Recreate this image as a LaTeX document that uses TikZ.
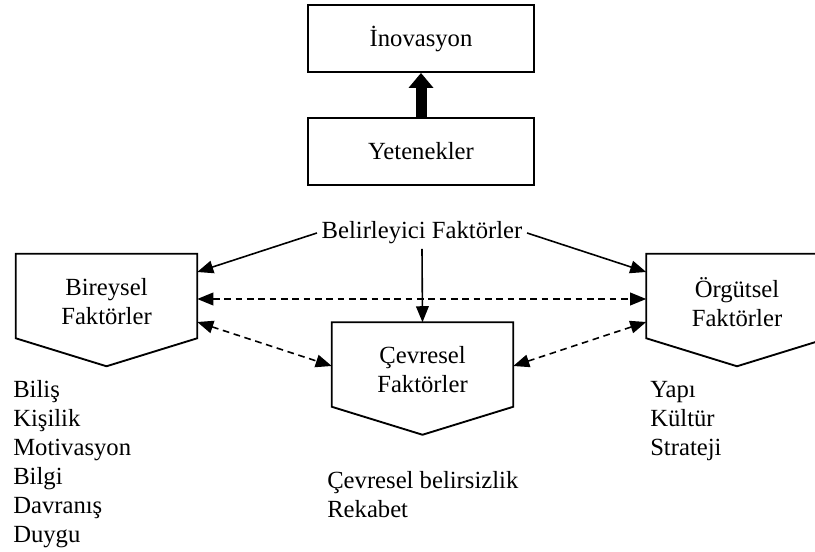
\documentclass[tikz,border=0pt]{standalone}
\usepackage{fontspec}
\setmainfont{Liberation Serif}
\usetikzlibrary{arrows.meta,calc}
\begin{document}
\begin{tikzpicture}[x=0.75pt,y=-0.75pt,
  font=\fontsize{18.5}{21.75}\selectfont,
  box/.style={draw, line width=1.4pt, minimum width=169.5pt, minimum height=50.25pt},
  panel/.style={minimum width=135.75pt, minimum height=63pt, inner sep=0pt},
  caption/.style={align=center},
  itemlist/.style={align=left, anchor=north west, inner sep=0pt},
  link/.style={line width=1.2pt, -{Triangle[length=12pt,width=9.5pt]}},
  duplex/.style={line width=1.2pt, dash pattern=on 5pt off 3.5pt,
    {Triangle[length=12pt,width=9.5pt]}-{Triangle[length=12pt,width=9.5pt]}},
  outline/.style={line width=1.4pt, line join=miter},
]
\clip (0,0) rectangle (815,552);

% top chain
\node[box] (ino) at (421,38.5) {İnovasyon};
\node[box] (yet) at (421,151.5) {Yetenekler};
\draw[line width=8.25pt, -{Triangle[length=11.25pt,width=18pt]}] (yet.north) -- (ino.south);

% determinants
\node (bel) at (422,233) {Belirleyici Faktörler};

% pentagon panels
\node[panel] (bir) at (106.5,296) {};
\node[panel] (cev) at (422.5,364.5) {};
\node[panel] (org) at (737,296) {};
\foreach \p in {bir,cev,org}
  \draw[outline] (\p.north west) -- (\p.north east) -- (\p.south east)
    -- ($(\p.south)+(0,28)$) -- (\p.south west) -- cycle;

\node[caption] (birt) at (106.5,302) {Bireysel\\Faktörler};
\node[caption] (cevt) at (422.5,370) {Çevresel\\Faktörler};
\node[caption] (orgt) at (737,302) {Örgütsel\\Faktörler};

% connectors
\draw[link] (bel.west) -- ($(bir.east)+(0,-24)$);
\draw[link] (bel.east) -- ($(org.west)+(0,-24)$);
\draw[link] (bel.south) -- (cev.north);
\draw[duplex] ($(bir.east)+(0,3)$) -- ($(org.west)+(0,3)$);
\draw[duplex] ($(bir.east)+(0,26)$) -- ($(cev.west)+(0,1.5)$);
\draw[duplex] ($(cev.east)+(0,1.5)$) -- ($(org.west)+(0,26)$);

% factor lists
\node[itemlist] (birl) at (13,380.3) {Biliş\\Kişilik\\Motivasyon\\Bilgi\\Davranış\\Duygu};
\node[itemlist] (cevl) at (327,471.3) {Çevresel belirsizlik\\Rekabet};
\node[itemlist] (orgl) at (650,380.8) {Yapı\\Kültür\\Strateji};
\end{tikzpicture}
\end{document}
